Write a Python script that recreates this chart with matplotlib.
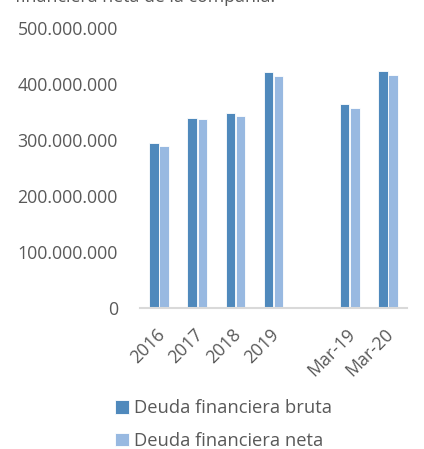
import matplotlib.pyplot as plt
import matplotlib.transforms as mtransforms
import numpy as np

plt.rcParams['font.family'] = ['Open Sans', 'DejaVu Sans']

categories = ['2016', '2017', '2018', '2019', '', 'Mar-19', 'Mar-20']
bruta = [294e6, 340e6, 349e6, 421e6, np.nan, 365e6, 424e6]
neta = [290e6, 337e6, 342e6, 414e6, np.nan, 357e6, 416e6]

c_bruta = '#4f89bc'
c_neta = '#98b9e1'
txt = '#595959'

fig = plt.figure(figsize=(4.24, 4.49), dpi=100)
ax = fig.add_axes([140 / 424, 1 - 308 / 449, 267 / 424, 280 / 449])

x = np.arange(len(categories))
w = 0.245
ax.bar(x - w / 2 - 0.01, bruta, w, color=c_bruta, edgecolor='white', linewidth=0.6,
       label='Deuda financiera bruta')
ax.bar(x + w / 2 + 0.01, neta, w, color=c_neta, edgecolor='white', linewidth=0.6,
       label='Deuda financiera neta')

ax.set_xlim(-0.5, len(categories) - 0.5)
ax.set_ylim(0, 500e6)
yt = np.arange(0, 500e6 + 1, 100e6)
ax.set_yticks(yt)
ax.set_yticklabels(['{:,.0f}'.format(v).replace(',', '.') for v in yt])
ax.set_xticks(x)
ax.set_xticklabels(categories, rotation=45, ha='right', va='center', rotation_mode='anchor')
ax.tick_params(axis='both', length=0, labelsize=12.8, colors=txt)
ax.tick_params(axis='y', pad=16)
ax.tick_params(axis='x', pad=17)
shift = mtransforms.ScaledTranslation(3 / 100, 0, fig.dpi_scale_trans)
for lab in ax.get_xticklabels():
    lab.set_transform(lab.get_transform() + shift)

for s in ['top', 'right', 'left']:
    ax.spines[s].set_visible(False)
ax.spines['bottom'].set_color('#d9d9d9')
ax.spines['bottom'].set_linewidth(1.5)

leg = fig.legend(loc='upper left', bbox_to_anchor=(108 / 424, 1 - 392 / 449), frameon=False,
                 fontsize=13.2, handlelength=0.75, handleheight=0.75, handletextpad=0.25,
                 labelspacing=0.8, borderaxespad=0)
for t in leg.get_texts():
    t.set_color(txt)

fig.text(15 / 424, 1 - 2 / 449, 'financiera neta de la compañía.', fontsize=12.8, color=txt,
         va='baseline', ha='left')

fig.savefig('out.png', dpi=100)
